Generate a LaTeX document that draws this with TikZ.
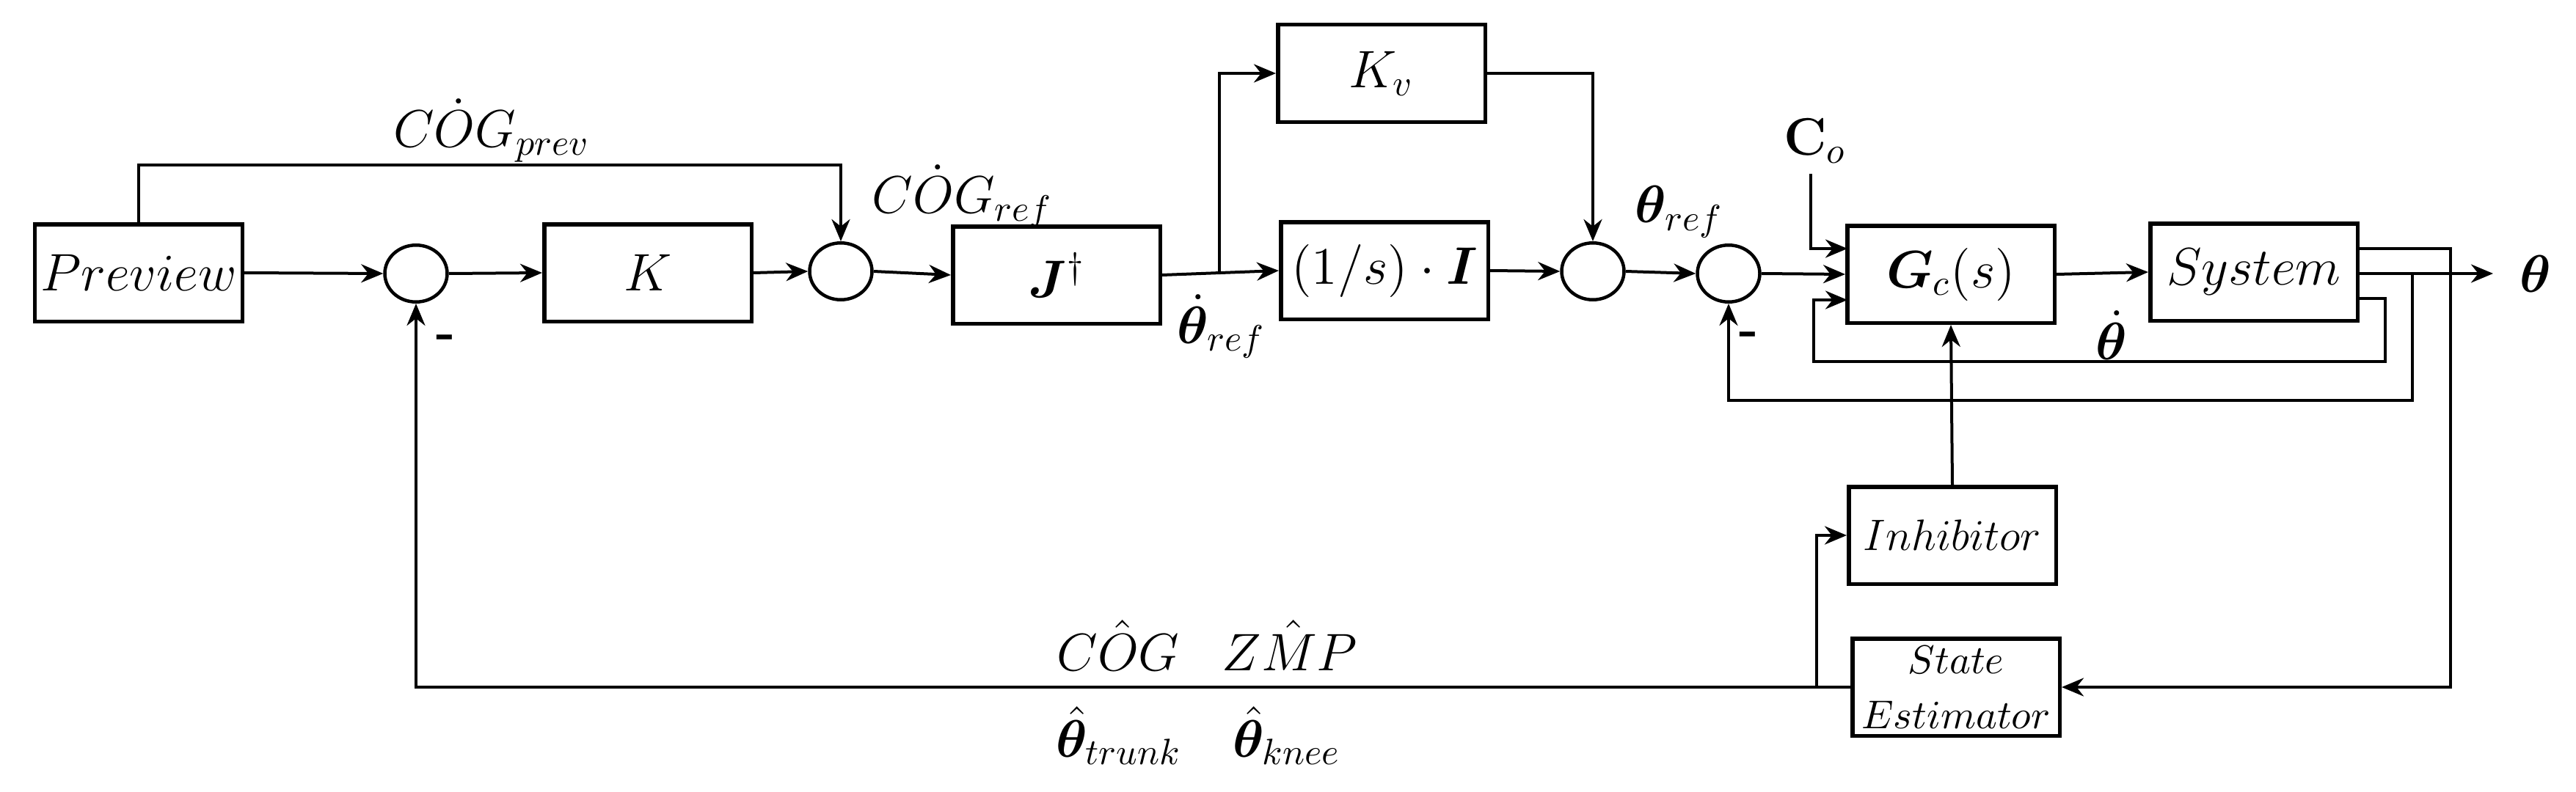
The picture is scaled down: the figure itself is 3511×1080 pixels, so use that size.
\documentclass[tikz,border=0pt]{standalone}
\usepackage{amsmath,bm}
\usetikzlibrary{arrows.meta}
\begin{document}
\begin{tikzpicture}[x=0.2pt,y=-0.2pt,
  every node/.style={font=\fontsize{14}{17}\selectfont},
  box/.style={draw,line width=1.1pt,minimum width=56.5pt,minimum height=26.5pt,inner sep=0pt},
  sum/.style={draw,line width=0.9pt,ellipse,minimum width=17pt,minimum height=15.5pt,inner sep=0pt},
  lab/.style={inner sep=0pt},
  ar/.style={line width=0.8pt,-{Stealth[length=6pt,width=5pt]}},
  ln/.style={line width=0.8pt}]
\usetikzlibrary{shapes.geometric}
\useasboundingbox (0,0) rectangle (3511,1080);
\node[box] (prev) at (189,372) {$Preview$};
\node[box] (K) at (883,372) {$K$};
\node[box] (J) at (1440,375) {$\bm{J}^{\dagger}$};
\node[box] (Kv) at (1883,100) {$K_v$};
\node[box] (I) at (1887,369) {$(1/s)\cdot\bm{I}$};
\node[box] (Gc) at (2659,374) {$\bm{G}_c(s)$};
\node[box] (sys) at (3072,371) {$System$};
\node[box] (inh) at (2661,730) {\fontsize{12}{14}\selectfont$Inhibitor$};
\node[box,align=center] (se) at (2666,937) {\fontsize{10.5}{12}\selectfont$State$\\[-2pt]\fontsize{10.5}{12}\selectfont$Estimator$};
\node[sum] (s1) at (567,373) {};
\node[sum] (s2) at (1146,370) {};
\node[sum] (s3) at (2171,370) {};
\node[sum] (s4) at (2356,373) {};
\coordinate (ptop) at (1146,225);
\coordinate (b1) at (1662,372);
\coordinate (co) at (2468,237);
\coordinate (gc1) at (2518,339);
\coordinate (gc3) at (2518,409);
\coordinate (out) at (3398,373);
\coordinate (o1) at (3213,339);
\coordinate (o3) at (3213,407);
\coordinate (bt) at (3288,373);
\coordinate (bi) at (2476,937);
% main path
\draw[ar] (prev.east) -- (s1.west);
\draw[ar] (s1.east) -- (K.west);
\draw[ar] (K.east) -- (s2.west);
\draw[ar] (s2.east) -- (J.west);
\draw[ar] (J.east) -- (I.west);
\draw[ar] (b1) |- (Kv.west);
\draw[ar] (Kv.east) -| (s3.north);
\draw[ar] (I.east) -- (s3.west);
\draw[ar] (s3.east) -- (s4.west);
\draw[ar] (s4.east) -- (Gc.west);
\draw[ar] (prev.north) |- (ptop) -- (s2.north);
\draw[ar] (co) |- (gc1);
\draw[ar] (Gc.east) -- (sys.west);
\draw[ar] (sys.east |- out) -- (out);
\draw[ar] (o1) -- (3340,339) -- (3340,937) -- (se.east);
\draw[ar] (o3) -- (3251,407) -- (3251,493) -- (2472,493) -- (2472,409) -- (gc3);
\draw[ar] (bt) -- (3288,546) -- (2356,546) -- (s4.south);
\draw[ar] (inh.north) -- (Gc.south);
\draw[ar] (se.west) -- (567,937) -- (s1.south);
\draw[ar] (bi) |- (inh.west);
% labels
\node[lab] at (670,178) {$C\dot{O}G_{prev}$};
\node[lab] at (1312,268) {$C\dot{O}G_{ref}$};
\node[lab] at (1665,445) {$\dot{\bm{\theta}}_{ref}$};
\node[lab] at (2289,289) {$\bm{\theta}_{ref}$};
\node[lab] at (2474,192) {$\mathbf{C}_o$};
\node[lab] at (3456,373) {$\bm{\theta}$};
\node[lab] at (2878,457) {$\dot{\bm{\theta}}$};
\node[lab] at (608,466) {\textbf{-}};
\node[lab] at (2384,462) {\textbf{-}};
\node[lab] at (1524,880) {$C\hat{O}G$};
\node[lab] at (1758,880) {$Z\hat{M}P$};
\node[lab] at (1525,1003) {$\hat{\bm{\theta}}_{trunk}$};
\node[lab] at (1754,1003) {$\hat{\bm{\theta}}_{knee}$};
\end{tikzpicture}
\end{document}
